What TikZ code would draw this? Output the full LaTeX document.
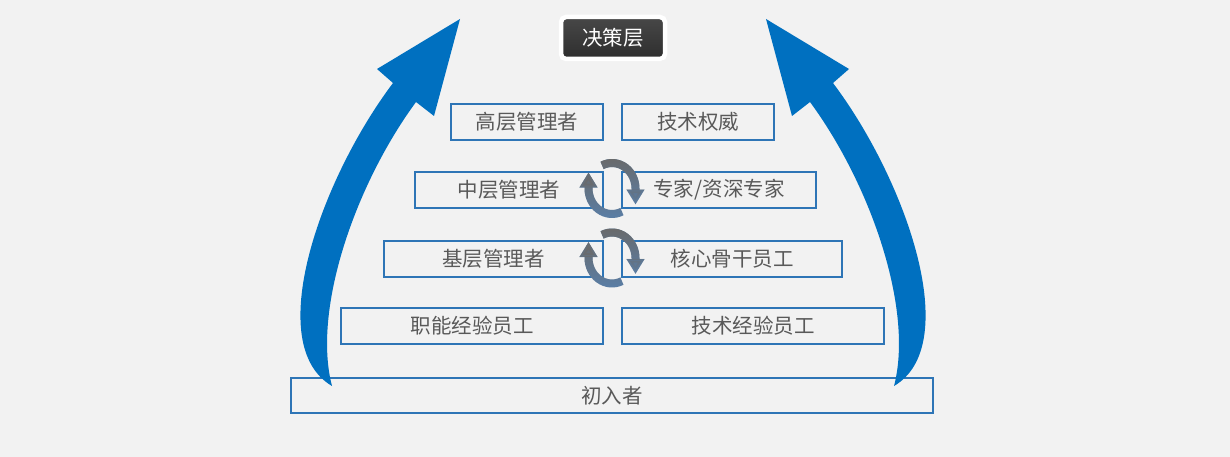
\documentclass[tikz,border=0pt]{standalone}
\usepackage{fontspec}
\usepackage{xcolor}
\usepackage{tikz}
\usetikzlibrary{shapes,shadows,fadings,arrows.meta}
\newfontfamily\cjk{Noto Sans CJK SC}
\definecolor{bg}{HTML}{F2F2F2}
\definecolor{upblue}{HTML}{0070C0}
\definecolor{boxblue}{HTML}{2E75B6}
\definecolor{txtgray}{HTML}{595959}
\definecolor{cycgray}{HTML}{6A6A6A}
\definecolor{cycblue}{HTML}{5A7FA8}
\tikzfading[name=fadedown,top color=transparent!0,bottom color=transparent!100]
\tikzset{box/.style={draw=boxblue,line width=1.6pt,text=txtgray,minimum height=36pt,inner sep=0pt,font=\cjk\fontsize{20.5}{24}\selectfont}}
\tikzset{deci/.style={draw=white,line width=4.5pt,rounded corners=5pt,top color=black!72,bottom color=black!82,text=white,inner sep=0pt,drop shadow={shadow xshift=0.5pt,shadow yshift=-2pt,opacity=0.3},font=\cjk\fontsize{20.5}{24}\selectfont}}
\tikzset{cyc/.style={line width=8pt,-{Triangle[width=17pt,length=15pt]}}}

\begin{document}
\begin{tikzpicture}[x=1pt,y=-1pt]
    \fill[bg] (0,0) rectangle (1230,457);

    \node[box,minimum width=152pt] (b)at (527,122) {高层管理者};
    \node[box,minimum width=152pt] (c)at (698,122) {技术权威};
    \node[box,minimum width=188pt] (d)at (509,190) {中层管理者};
    \node[box,minimum width=194pt] (e)at (719,190) {专家/资深专家};
    \node[box,minimum width=219pt] (f)at (493.5,259) {基层管理者};
    \node[box,minimum width=220pt] (g)at (732,259) {核心骨干员工};
    \node[box,minimum width=262pt] (h)at (472,326) {职能经验员工};
    \node[box,minimum width=262pt] (i)at (753,326) {技术经验员工};
    \node[box,minimum width=642pt,minimum height=35pt] (j)at (612,395.5) {初入者};
    \node[deci,minimum width=104pt,minimum height=42pt] (a)at (613,38) {决策层};

    % rising arrows, right one mirrored
    \fill[upblue] (460,19) -- (434,116) -- (416,102) .. controls (355,185) and (312,310) .. (332,386)
        .. controls (262,345) and (320,180) .. (393,83) -- (377,69) -- cycle;
    \begin{scope}[xshift=1226pt,xscale=-1]
    \fill[upblue] (460,19) -- (434,116) -- (416,102) .. controls (355,185) and (312,310) .. (332,386)
        .. controls (262,345) and (320,180) .. (393,83) -- (377,69) -- cycle;
    \end{scope}

    % exchange cycles
    \coordinate (o1) at (612,188.5);
    \coordinate (o2) at (612,258);
    \draw [cyc,cycblue] (o1) ++(245:23.5 and 25.5) arc[start angle=245,end angle=360,x radius=23.5,y radius=25.5] -- ++(0,16);
    \draw [cyc,cycgray,path fading=fadedown] (o1) ++(245:23.5 and 25.5) arc[start angle=245,end angle=360,x radius=23.5,y radius=25.5] -- ++(0,16);
    \draw [cyc,cycblue] (o1) ++(65:23.5 and 25.5) arc[start angle=65,end angle=180,x radius=23.5,y radius=25.5] -- ++(0,-16);
    \draw [cyc,cycgray,path fading=fadedown] (o1) ++(65:23.5 and 25.5) arc[start angle=65,end angle=180,x radius=23.5,y radius=25.5] -- ++(0,-16);
    \draw [cyc,cycblue] (o2) ++(245:23.5 and 25.5) arc[start angle=245,end angle=360,x radius=23.5,y radius=25.5] -- ++(0,16);
    \draw [cyc,cycgray,path fading=fadedown] (o2) ++(245:23.5 and 25.5) arc[start angle=245,end angle=360,x radius=23.5,y radius=25.5] -- ++(0,16);
    \draw [cyc,cycblue] (o2) ++(65:23.5 and 25.5) arc[start angle=65,end angle=180,x radius=23.5,y radius=25.5] -- ++(0,-16);
    \draw [cyc,cycgray,path fading=fadedown] (o2) ++(65:23.5 and 25.5) arc[start angle=65,end angle=180,x radius=23.5,y radius=25.5] -- ++(0,-16);
\end{tikzpicture}
\end{document}
